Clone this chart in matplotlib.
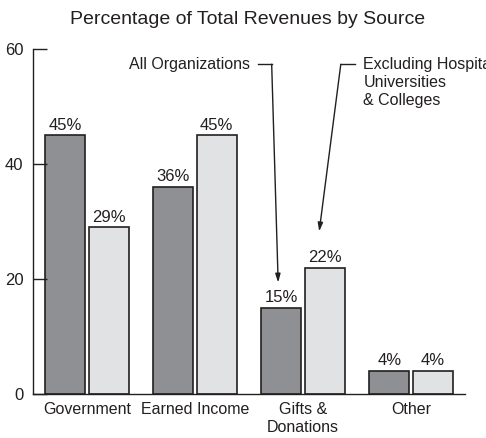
import matplotlib
matplotlib.use("Agg")
import matplotlib.pyplot as plt
import numpy as np

plt.rcParams['font.family'] = ['Liberation Sans', 'DejaVu Sans']

categories = ["Government", "Earned Income", "Gifts &\nDonations", "Other"]
all_orgs = [45, 36, 15, 4]
excl_hosp = [29, 45, 22, 4]
yticks = [0, 20, 40, 60]

dark = "#8f9093"
light = "#e1e2e4"
ink = "#231f20"

fig = plt.figure(figsize=(4.86, 4.38), dpi=100)
ax = fig.add_axes([33/486, 1-394/438, (465-33)/486, (394-49.3)/438])

x = np.arange(len(categories))
w = 0.37
b1 = ax.bar(x - 0.2, all_orgs, w, color=dark, edgecolor=ink, linewidth=1.2)
b2 = ax.bar(x + 0.2, excl_hosp, w, color=light, edgecolor=ink, linewidth=1.2)
for bars, vals in [(b1, all_orgs), (b2, excl_hosp)]:
    for r, v in zip(bars, vals):
        ax.text(r.get_x() + r.get_width()/2, v + 0.5, f"{v}%", ha="center", va="bottom",
                fontsize=12, color=ink)

ax.set_xlim(-0.5, 3.5)
ax.set_ylim(0, 60)
ax.set_xticks(x)
ax.set_xticklabels(categories, fontsize=11.5, color=ink, linespacing=1.25)
ax.set_yticks(yticks)
ax.tick_params(axis="x", length=0, pad=6)
ax.tick_params(axis="y", direction="in", length=10, width=1, pad=7, labelsize=12,
               colors=ink)
for s in ["top", "right"]:
    ax.spines[s].set_visible(False)
for s in ["left", "bottom"]:
    ax.spines[s].set_color(ink)
    ax.spines[s].set_linewidth(1)

fig.text(0.51, 1-20/438, "Percentage of Total Revenues by Source", ha="center",
         va="center", fontsize=14, color=ink)

# callouts
ax.text(1.51, 57.4, "All Organizations", ha="right", va="center", fontsize=11.5,
        color=ink)
ax.plot([1.58, 1.71], [57.4, 57.4], color=ink, lw=1)
ax.annotate("", xy=(1.77, 19.4), xytext=(1.71, 57.4),
            arrowprops=dict(arrowstyle="-|>,head_length=0.5,head_width=0.15",
                            color=ink, lw=1, shrinkA=0, shrinkB=0))
ax.text(2.56, 58.6, "Excluding Hospitals,\nUniversities\n& Colleges", ha="left", va="top",
        fontsize=11.5, color=ink, linespacing=1.22, clip_on=False)
ax.plot([2.48, 2.35], [57.4, 57.4], color=ink, lw=1)
ax.annotate("", xy=(2.15, 28.3), xytext=(2.35, 57.4),
            arrowprops=dict(arrowstyle="-|>,head_length=0.5,head_width=0.15",
                            color=ink, lw=1, shrinkA=0, shrinkB=0))

fig.savefig("out.png", dpi=100)
